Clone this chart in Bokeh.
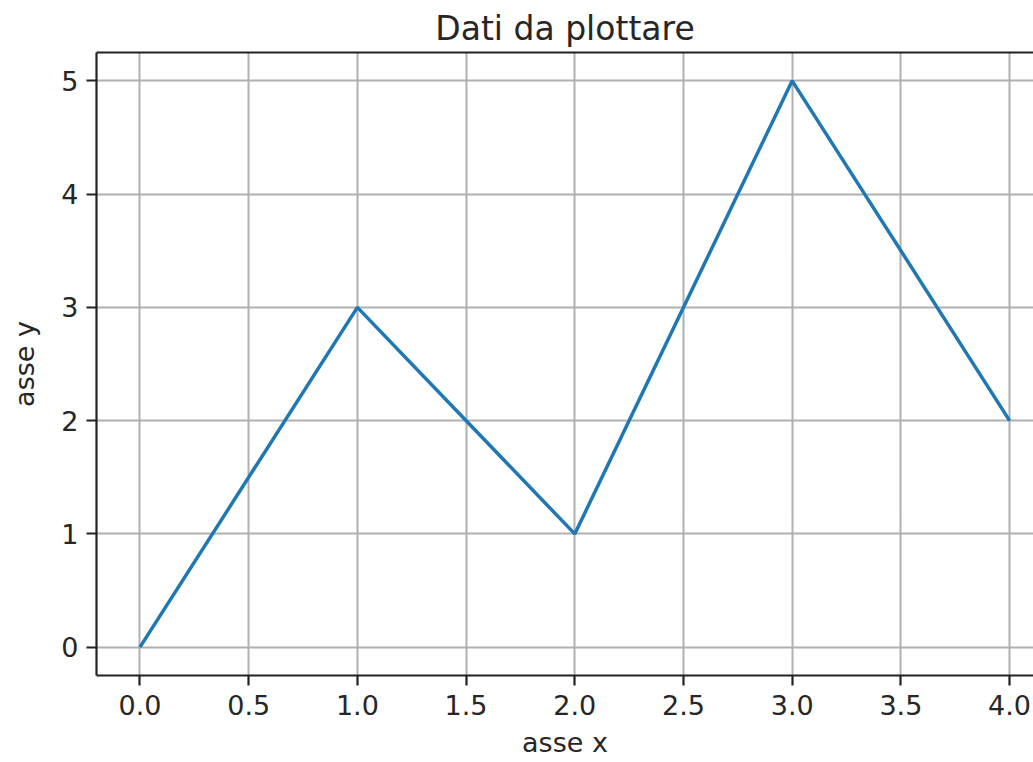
from bokeh.plotting import figure
from bokeh.models import LinearAxis, FixedTicker, Range1d
from bokeh.embed import file_html
from bokeh.resources import INLINE

# Data to plot
x_values = [0, 1, 2, 3, 4]
y_values = [0, 3, 1, 5, 2]
x_ticks = [0.0, 0.5, 1.0, 1.5, 2.0, 2.5, 3.0, 3.5, 4.0]
y_ticks = [0, 1, 2, 3, 4, 5]

FONT = "DejaVu Sans"
TEXT_COLOR = "#262626"
SPINE_W = 2.2

p = figure(
    width=1033, height=762,
    x_range=Range1d(-0.2, 4.11), y_range=Range1d(-0.25, 5.25),
    output_backend="svg", toolbar_location=None,
    x_axis_label="asse x", y_axis_label="asse y",
    min_border_left=96, min_border_right=0,
    min_border_top=52, min_border_bottom=87,
)
p.outline_line_color = None
p.background_fill_color = "white"
p.border_fill_color = "white"

# Title
p.title.text = "Dati da plottare"
p.title.align = "center"
p.title.text_font = FONT
p.title.text_font_size = "33px"
p.title.text_font_style = "normal"
p.title.text_color = TEXT_COLOR
p.title.offset = 8

# Axes styling
for ax in (p.xaxis[0], p.yaxis[0]):
    ax.axis_line_width = SPINE_W
    ax.axis_line_color = "#222222"
    ax.major_tick_line_width = SPINE_W
    ax.major_tick_line_color = "#222222"
    ax.major_tick_out = 10
    ax.major_tick_in = 0
    ax.minor_tick_line_color = None
    ax.major_label_text_font = FONT
    ax.major_label_text_font_size = "27px"
    ax.major_label_text_color = TEXT_COLOR
    ax.axis_label_text_font = FONT
    ax.axis_label_text_font_size = "27px"
    ax.axis_label_text_font_style = "normal"
    ax.axis_label_text_color = TEXT_COLOR

p.xaxis[0].ticker = FixedTicker(ticks=x_ticks)
p.xaxis[0].major_label_overrides = {t: f"{t:.1f}" for t in x_ticks}
p.xaxis[0].major_label_standoff = 9
p.xaxis[0].axis_label_standoff = 9

p.yaxis[0].ticker = FixedTicker(ticks=y_ticks)
p.yaxis[0].major_label_standoff = 8
p.yaxis[0].axis_label_standoff = 18

# Top spine
top = LinearAxis(ticker=FixedTicker(ticks=[]), axis_line_width=SPINE_W,
                 axis_line_color="#222222", major_label_text_font_size="0px",
                 major_tick_out=0, major_tick_in=0, minor_tick_line_color=None)
p.add_layout(top, "above")

# Grid
p.xgrid.ticker = FixedTicker(ticks=x_ticks)
p.ygrid.ticker = FixedTicker(ticks=y_ticks)
for g in (p.xgrid[0], p.ygrid[0]):
    g.grid_line_color = "#b0b0b0"
    g.grid_line_width = 2

p.line(x_values, y_values, line_color="#1f77b4", line_width=3.5)

open("out.html", "w").write(file_html(p, INLINE))
